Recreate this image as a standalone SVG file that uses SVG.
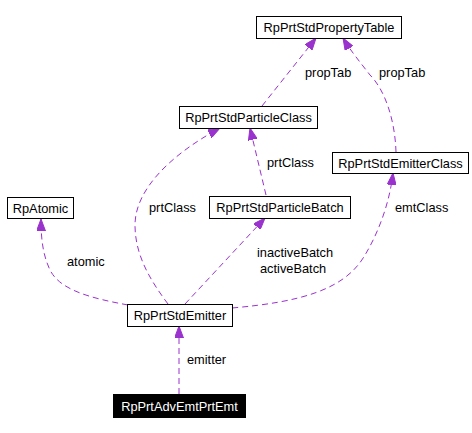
<svg xmlns="http://www.w3.org/2000/svg" width="472" height="433" viewBox="0 0 472 433">
<style>
.box{fill:#fff;stroke:#000;stroke-width:1}
.boxd{fill:#000;stroke:#000;stroke-width:1}
.t{font-family:"Liberation Sans",Arial,sans-serif;font-size:12.8px;fill:#000;text-anchor:middle}
.tw{font-family:"Liberation Sans",Arial,sans-serif;font-size:12.8px;fill:#fff;text-anchor:middle}
.l{font-family:"Liberation Sans",Arial,sans-serif;font-size:12.8px;fill:#000}
.e{fill:none;stroke:#9a32cd;stroke-width:1;stroke-dasharray:6,4;marker-end:url(#ah)}
</style>
<defs>
<marker id="ah" markerWidth="12" markerHeight="9" refX="12" refY="4.5" orient="auto" markerUnits="userSpaceOnUse">
<path d="M0,0 L12,4.5 L0,9 Z" fill="#9a32cd" stroke="#9a32cd"/>
</marker>
</defs>
<rect width="472" height="433" fill="#fff"/>
<g id="connectors">
<path class="e" d="M179,394 L179,326"/>
<path class="e" d="M128,305 C90,298 60,290 50,270 C43,255 41,240 41,219"/>
<path class="e" d="M168,304 C150,280 135,255 135,225 C135,190 170,155 220,128"/>
<path class="e" d="M266,195 L250,128"/>
<path class="e" d="M185,304 L265,218"/>
<path class="e" d="M232,308 C300,302 345,290 365,255 C380,230 390,200 393,173"/>
<path class="e" d="M262,106 L316,38"/>
<path class="e" d="M396,152 C395,120 385,90 370,75 C360,62 350,50 343,38"/>
<text class="l" x="187" y="364">emitter</text>
<text class="l" x="67" y="266">atomic</text>
<text class="l" x="149" y="212">prtClass</text>
<text class="l" x="267" y="167">prtClass</text>
<text class="l" x="257" y="257">inactiveBatch</text>
<text class="l" x="260" y="273">activeBatch</text>
<text class="l" x="395" y="212">emtClass</text>
<text class="l" x="305" y="77">propTab</text>
<text class="l" x="379" y="77">propTab</text>
</g>
<g id="RpPrtStdPropertyTable"><rect class="box" x="256.5" y="16.5" width="145" height="22"/><text class="t" x="329" y="32">RpPrtStdPropertyTable</text></g>
<g id="RpPrtStdParticleClass"><rect class="box" x="179.5" y="106.5" width="138" height="22"/><text class="t" x="248.5" y="122">RpPrtStdParticleClass</text></g>
<g id="RpPrtStdEmitterClass"><rect class="box" x="332.5" y="152.5" width="136" height="21"/><text class="t" x="400.5" y="167.5">RpPrtStdEmitterClass</text></g>
<g id="RpAtomic"><rect class="box" x="7.5" y="197.5" width="66" height="21"/><text class="t" x="40.5" y="212.5">RpAtomic</text></g>
<g id="RpPrtStdParticleBatch"><rect class="box" x="209.5" y="196.5" width="141" height="22"/><text class="t" x="280" y="212">RpPrtStdParticleBatch</text></g>
<g id="RpPrtStdEmitter"><rect class="box" x="127.5" y="304.5" width="105" height="22"/><text class="t" x="180" y="320">RpPrtStdEmitter</text></g>
<g id="RpPrtAdvEmtPrtEmt"><rect class="boxd" x="113.5" y="394.5" width="132" height="23"/><text class="tw" x="179.5" y="411">RpPrtAdvEmtPrtEmt</text></g>
</svg>
